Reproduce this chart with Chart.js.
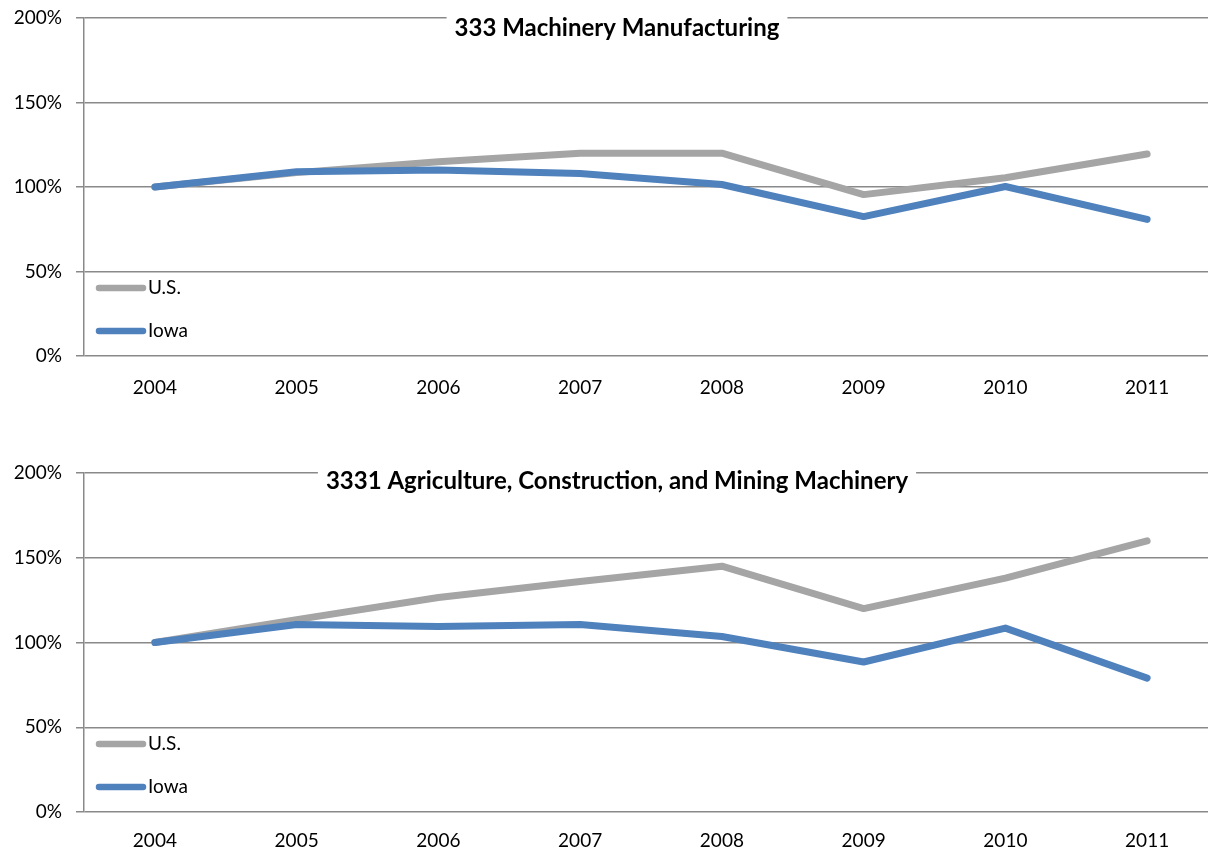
<!DOCTYPE html>
<html><head><meta charset="utf-8">
<script src="https://cdn.jsdelivr.net/npm/chart.js@4.4.1/dist/chart.umd.min.js"></script>
<style>
html,body{margin:0;padding:0;overflow:hidden;background:#fff;width:1208px;height:852px;position:relative}
canvas{position:absolute;left:0}
</style></head><body>
<canvas id="c1" width="1220" height="426" style="top:0px"></canvas>
<canvas id="c2" width="1220" height="426" style="top:426px"></canvas>
<script>
// ---- data ----
const years = ['2004','2005','2006','2007','2008','2009','2010','2011'];
const seriesNames = ['U.S.', 'Iowa'];
const title333 = '333 Machinery Manufacturing';
const us333 = [100, 108.5, 115, 120, 120, 95.5, 105.5, 119.5];
const iowa333 = [100, 109, 110, 108, 101.5, 82.5, 100.3, 80.8];
const title3331 = '3331 Agriculture, Construction, and Mining Machinery';
const us3331 = [100, 113.5, 126.5, 136, 145, 120, 138, 160];
const iowa3331 = [100, 110.6, 109.4, 110.6, 103.5, 88.5, 108.5, 79];
const yMin = 0, yMax = 200, yStep = 50;

// ---- styles ----
const FONT = 'Lato, "Open Sans", sans-serif';
const GRID = '#898989';
const US_COLOR = '#A5A5A5';
const IOWA_COLOR = '#4F81BD';

const insideDecor = {
  id: 'insideDecor',
  afterDraw(chart, args, opts) {
    const ctx = chart.ctx, a = chart.chartArea;
    ctx.save();
    // title with white box over top gridline
    ctx.font = 'bold 24px ' + FONT;
    const w = ctx.measureText(opts.title).width;
    const cx = 617;
    ctx.fillStyle = '#fff';
    ctx.fillRect(cx - w / 2 - 8, a.top - 4, w + 16, 8);
    ctx.fillStyle = '#000';
    ctx.textAlign = 'center';
    ctx.textBaseline = 'middle';
    ctx.fillText(opts.title, cx, a.top + opts.titleDy);
    // legend inside plot, bottom-left
    const offs = [68, 25];
    chart.data.datasets.forEach((ds, i) => {
      const y = a.bottom - offs[i];
      ctx.strokeStyle = ds.borderColor;
      ctx.lineWidth = 6.5;
      ctx.lineCap = 'round';
      ctx.beginPath();
      ctx.moveTo(99, y);
      ctx.lineTo(143, y);
      ctx.stroke();
      ctx.fillStyle = '#000';
      ctx.font = '19px ' + FONT;
      ctx.textAlign = 'left';
      ctx.fillText(ds.label, 148, y);
    });
    ctx.restore();
  }
};

function makeChart(id, title, us, iowa, topPad, bottomPos, xPad, titleDy) {
  const H = 426;
  return new Chart(document.getElementById(id), {
    type: 'line',
    data: {
      labels: years,
      datasets: [
        { label: seriesNames[0], data: us, borderColor: US_COLOR, order: 2 },
        { label: seriesNames[1], data: iowa, borderColor: IOWA_COLOR, order: 1 }
      ]
    },
    options: {
      responsive: false,
      animation: false,
      devicePixelRatio: 1,
      layout: { padding: { top: topPad, right: 2, left: 0, bottom: 0 } },
      elements: {
        line: { borderWidth: 7, tension: 0, borderCapStyle: 'round', borderJoinStyle: 'round', fill: false },
        point: { radius: 0, hoverRadius: 0 }
      },
      plugins: {
        legend: { display: false },
        title: { display: false },
        tooltip: { enabled: false },
        insideDecor: { title: title, titleDy: titleDy }
      },
      scales: {
        x: {
          offset: true,
          grid: { display: false, drawTicks: false },
          border: { display: false },
          ticks: { color: '#000', font: { family: FONT, size: 19 }, padding: xPad, maxRotation: 0 },
          afterFit(s) { s.height = H - bottomPos; s.paddingLeft = 0; s.paddingRight = 0; }
        },
        y: {
          min: yMin, max: yMax,
          grid: { color: GRID, lineWidth: 1.5, tickLength: 8, tickColor: GRID, drawTicks: true },
          border: { display: true, color: GRID, width: 1.5 },
          ticks: { stepSize: yStep, color: '#000', font: { family: FONT, size: 19 }, padding: 14,
                   callback: v => v + '%' },
          afterFit(s) { s.width = 84; s.paddingTop = 0; s.paddingBottom = 0; }
        }
      }
    },
    plugins: [insideDecor]
  });
}

makeChart('c1', title333, us333, iowa333, 18, 356, 20, 10);
makeChart('c2', title3331, us3331, iowa3331, 47, 386, 17, 8);
</script>
</body></html>
